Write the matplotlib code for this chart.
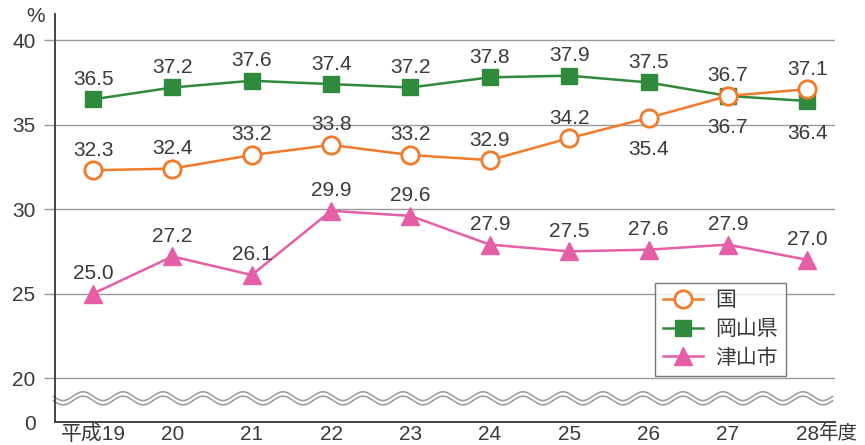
import numpy as np
import matplotlib.pyplot as plt

plt.rcParams['font.family'] = ['Liberation Sans', 'Noto Sans CJK JP']

years = ['平成19', '20', '21', '22', '23', '24', '25', '26', '27', '28']
kuni = [32.3, 32.4, 33.2, 33.8, 33.2, 32.9, 34.2, 35.4, 36.7, 37.1]
okayama = [36.5, 37.2, 37.6, 37.4, 37.2, 37.8, 37.9, 37.5, 36.7, 36.4]
tsuyama = [25.0, 27.2, 26.1, 29.9, 29.6, 27.9, 27.5, 27.6, 27.9, 27.0]

# label placement: 1 = above the marker, -1 = below
kuni_pos = [1, 1, 1, 1, 1, 1, 1, -1, -1, 1]
okayama_pos = [1, 1, 1, 1, 1, 1, 1, 1, 1, -1]
tsuyama_pos = [1] * 10

ORANGE = '#f37a2b'
GREEN = '#2f8a3c'
PINK = '#e55ea6'
GRID = '#9a9a9a'
TEXT = '#3a3a3a'

Y_ZERO = 17.4  # where the broken axis shows "0"

fig = plt.figure(figsize=(8.65, 4.45), dpi=100)
ax = fig.add_axes([55 / 865, 1 - 422 / 445, 780 / 865, 408 / 445])

x = np.arange(len(years))

l_ts, = ax.plot(x, tsuyama, color=PINK, lw=1.8, marker='^', ms=13,
                mfc=PINK, mec=PINK, label='津山市', zorder=3)
l_ok, = ax.plot(x, okayama, color=GREEN, lw=1.8, marker='s', ms=12,
                mfc=GREEN, mec=GREEN, label='岡山県', zorder=4)
l_ku, = ax.plot(x, kuni, color=ORANGE, lw=1.8, marker='o', ms=12.5,
                mfc='white', mec=ORANGE, mew=2, label='国', zorder=5)

for vals, pos in ((kuni, kuni_pos), (okayama, okayama_pos), (tsuyama, tsuyama_pos)):
    for xi, v, p in zip(x, vals, pos):
        dy = 10.5 if p > 0 else -27
        ax.annotate(f'{v:.1f}', (xi, v), xytext=(0, dy), textcoords='offset points',
                    ha='center', va='baseline', fontsize=15, color=TEXT, zorder=6)

ax.set_xlim(-0.48, 9.35)
ax.set_ylim(Y_ZERO, 41.55)

# grid lines
for g in [20, 25, 30, 35, 40]:
    ax.axhline(g, color=GRID, lw=1, zorder=1)

ax.set_yticks([Y_ZERO, 20, 25, 30, 35, 40])
ax.set_yticklabels(['0', '20', '25', '30', '35', '40'])
ax.tick_params(axis='y', length=8, color=GRID, width=1, labelsize=15,
               labelcolor=TEXT, pad=6)
ax.yaxis.get_major_ticks()[0].tick1line.set_visible(False)

ax.set_xticks(x)
ax.set_xticklabels(years)
ax.tick_params(axis='x', length=0, labelsize=15, labelcolor=TEXT, pad=2)
ax.text(9.14, -0.007, '年度', transform=ax.get_xaxis_transform(),
        ha='left', va='top', fontsize=14, color=TEXT)

for side in ['top', 'right']:
    ax.spines[side].set_visible(False)
for side in ['left', 'bottom']:
    ax.spines[side].set_color('#444444')
    ax.spines[side].set_linewidth(1.4)

fig.text(36 / 865, 1 - 17 / 445, '%', ha='center', va='center',
         fontsize=15, color=TEXT)

# wavy axis break
wx = np.linspace(-0.5, 9.32, 800)
amp, period = 0.26, 0.504
upper = 18.93 + amp * np.sin(2 * np.pi * (wx - 0.252) / period)
lower = upper - 0.26
ax.fill_between(wx, lower, upper, color='white', zorder=2, clip_on=False, lw=0)
ax.plot(wx, upper, color=GRID, lw=1.1, zorder=2, clip_on=False)
ax.plot(wx, lower, color=GRID, lw=1.1, zorder=2, clip_on=False)

leg = ax.legend(handles=[l_ku, l_ok, l_ts], loc='upper left',
                bbox_to_anchor=(655 / 865, 1 - 283 / 445),
                bbox_transform=fig.transFigure, fontsize=15, frameon=True,
                fancybox=False, edgecolor='#555555', handlelength=1.9,
                borderpad=0.4, borderaxespad=0, labelspacing=0.45,
                handletextpad=0.6)
leg.get_frame().set_linewidth(1)
leg.set_zorder(7)
for t in leg.get_texts():
    t.set_color(TEXT)

fig.savefig('out.png', dpi=100)
